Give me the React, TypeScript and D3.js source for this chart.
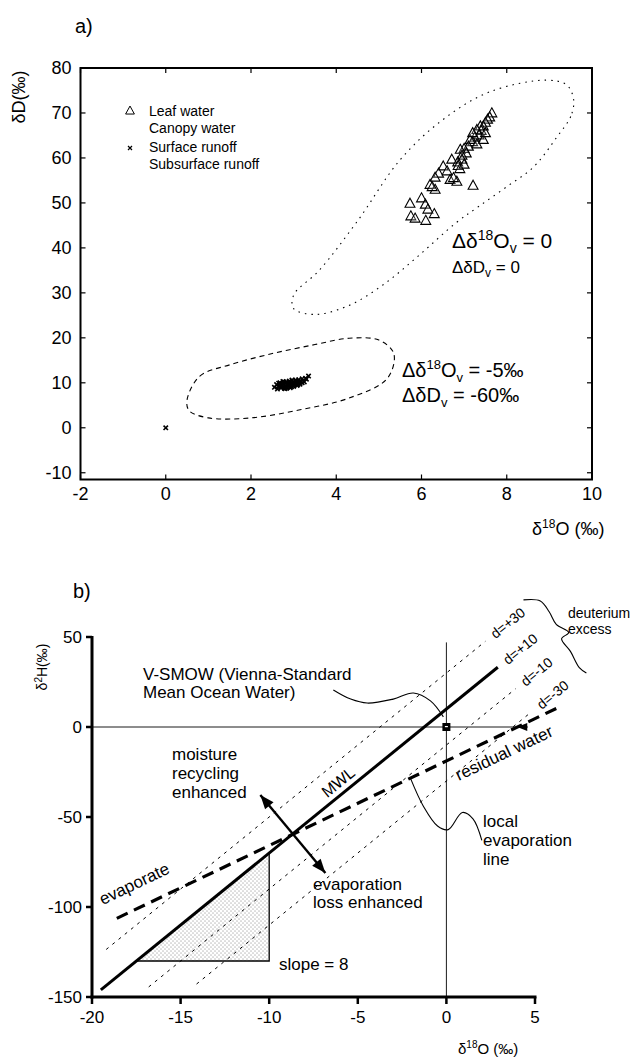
import React from "react";
import * as d3 from "d3";

const FONT = "'Liberation Sans', Arial, Helvetica, sans-serif";

// ---------- Panel a data ----------
const aXTicks = [-2, 0, 2, 4, 6, 8, 10];
const aYTicks = [-10, 0, 10, 20, 30, 40, 50, 60, 70, 80];

const leafWater: [number, number][] = [
  [7.65, 69.9], [7.6, 69.0], [7.55, 68.5], [7.5, 67.8], [7.45, 67.0], [7.38, 67.0],
  [7.4, 66.0], [7.3, 66.2], [7.35, 65.0], [7.25, 64.5], [7.45, 64.0], [7.2, 63.5],
  [7.14, 64.0], [7.3, 63.0], [7.1, 62.5], [7.0, 62.0], [6.91, 61.8], [7.05, 61.0],
  [6.95, 60.5], [6.95, 59.6], [6.85, 59.0], [6.71, 59.6], [6.86, 58.2], [6.51, 58.1],
  [6.9, 57.5], [6.6, 57.0], [6.4, 56.5], [6.32, 55.6], [6.67, 55.1], [6.83, 54.7],
  [6.75, 55.5], [7.21, 53.8], [6.2, 54.0], [6.32, 52.9], [6.25, 53.5], [6.0, 51.0],
  [5.73, 49.8], [6.09, 49.6], [6.15, 48.5], [5.75, 47.0], [5.85, 46.5], [6.1, 46.0],
  [6.3, 47.5], [7.0, 58.5], [7.5, 65.5], [7.2, 65.5],
];

const runoff: [number, number][] = [
  [2.55, 9.0], [2.6, 9.6], [2.62, 8.6], [2.65, 9.3], [2.68, 10.0], [2.7, 8.9], [2.72, 9.5],
  [2.75, 10.3], [2.78, 8.8], [2.8, 9.4], [2.82, 10.1], [2.85, 9.0], [2.88, 9.8], [2.9, 10.4],
  [2.92, 8.9], [2.95, 9.6], [2.98, 10.2], [3.0, 9.2], [3.02, 9.9], [3.05, 10.6], [3.08, 9.4],
  [3.1, 10.0], [3.12, 10.7], [3.15, 9.7], [3.18, 10.3], [3.2, 10.9], [3.25, 10.2], [3.3, 10.8],
  [2.7, 9.2], [2.75, 9.8], [2.8, 8.7], [2.85, 9.5], [2.9, 10.0], [2.95, 9.1], [3.0, 9.7],
  [3.05, 10.3], [3.1, 9.6], [2.65, 9.9], [2.72, 9.0], [2.78, 10.2], [2.84, 8.8], [2.9, 9.3],
  [2.96, 10.6], [3.02, 9.5], [3.08, 9.9], [3.14, 10.1], [3.2, 10.0], [3.35, 11.5], [3.28, 11.0],
  [0.0, 0.0],
];

const zeroLoop: [number, number][] = [
  [9.57, 72.9], [9.5, 69.2], [9.18, 64.7], [8.63, 58.0], [8.0, 53.6], [7.34, 49.2],
  [6.8, 45.5], [5.9, 38.0], [5.1, 31.8], [4.3, 27.2], [3.5, 25.2], [3.0, 26.5],
  [3.0, 29.5], [3.6, 35.0], [4.5, 46.0], [5.5, 59.6], [6.5, 68.5], [7.6, 74.7],
  [8.94, 77.3], [9.41, 76.2],
];

const shiftLoop: [number, number][] = [
  [0.5, 6.2], [0.8, 11.5], [1.5, 14.0], [2.5, 16.5], [3.5, 18.5], [4.3, 19.9],
  [5.0, 19.5], [5.35, 16.5], [5.2, 11.0], [4.3, 6.6], [3.15, 4.0], [2.0, 2.2],
  [1.0, 2.2], [0.55, 3.8],
];

// ---------- Panel b data ----------
const bXTicks = [-20, -15, -10, -5, 0, 5];
const bYTicks = [-150, -100, -50, 0, 50];

const excessLines = [
  { d: 30, from: -19.2, to: 2.2, label: "d=+30", solid: false },
  { d: 10, from: -19.5, to: 2.9, label: "d=+10", solid: true },
  { d: -10, from: -16.8, to: 3.9, label: "d=-10", solid: false },
  { d: -30, from: -14.1, to: 4.8, label: "d=-30", solid: false },
];
const mwlSlope = 8;
const evapLine: [number, number][] = [[-18.6, -106.3], [6.2, 10.3]];
const slopeTriangle: [number, number][] = [[-17.5, -130], [-10, -130], [-10, -70]];
const arrowEnds: [number, number][] = [[-10.5, -37.8], [-6.83, -81.1]];
const smowLeader: [number, number][] = [[-6.38, 20.6], [-5.4, 15.5], [-4.47, 13.3], [-3.0, 15.5], [-1.86, 18.9], [-0.9, 14.5], [-0.17, 5.6]];
const evapLeader: [number, number][] = [[-2.03, -28.4], [-1.3, -44], [-0.5, -55], [0.1, -57], [0.9, -47.5], [1.5, -51], [2.0, -63]];
const brace: [number, number][] = [[4.35, 70.6], [5.3, 70], [5.8, 64], [6.2, 57], [6.9, 52.5], [6.5, 49], [7.0, 42], [7.5, 33], [7.9, 30]];

export default function App() {
  const xa = d3.scaleLinear().domain([-2, 10]).range([80.5, 592]);
  const ya = d3.scaleLinear().domain([-11.5, 80]).range([479.5, 68]);
  const xb = d3.scaleLinear().domain([-20, 5]).range([92, 535]);
  const yb = d3.scaleLinear().domain([-150, 50]).range([997, 637]);

  const loopLine = d3.line<[number, number]>().x(d => xa(d[0])).y(d => ya(d[1])).curve(d3.curveCatmullRomClosed);
  const bLine = d3.line<[number, number]>().x(d => xb(d[0])).y(d => yb(d[1]));
  const bCurve = d3.line<[number, number]>().x(d => xb(d[0])).y(d => yb(d[1])).curve(d3.curveCatmullRom);

  const kx = (xb(1) - xb(0));
  const ky = (yb(0) - yb(1));
  const mwlAngle = -Math.atan((mwlSlope * ky) / kx) * 180 / Math.PI;
  const evSlope = (evapLine[1][1] - evapLine[0][1]) / (evapLine[1][0] - evapLine[0][0]);
  const evAngle = -Math.atan((evSlope * ky) / kx) * 180 / Math.PI;

  const tri = (cx: number, cy: number, s: number) =>
    `M${cx},${cy - s * 0.62}L${cx + s * 0.55},${cy + s * 0.38}L${cx - s * 0.55},${cy + s * 0.38}Z`;
  const cross = (cx: number, cy: number, s: number) =>
    `M${cx - s},${cy - s}L${cx + s},${cy + s}M${cx - s},${cy + s}L${cx + s},${cy - s}`;

  const x0 = xa.range()[0], x1 = xa.range()[1];
  const yTop = ya.range()[1], yBot = ya.range()[0];

  const ax0 = xb(arrowEnds[0][0]), ay0 = yb(arrowEnds[0][1]);
  const ax1 = xb(arrowEnds[1][0]), ay1 = yb(arrowEnds[1][1]);
  const ang = Math.atan2(ay1 - ay0, ax1 - ax0);
  const head = (x: number, y: number, a: number, L = 14, Wd = 5.5) => {
    const bx = x - L * Math.cos(a), by = y - L * Math.sin(a);
    return `M${x},${y}L${bx + Wd * Math.sin(a)},${by - Wd * Math.cos(a)}L${bx - Wd * Math.sin(a)},${by + Wd * Math.cos(a)}Z`;
  };

  return (
    <svg width={635} height={1059} style={{ display: "block", position: "absolute", left: 0, top: 0 }} fontFamily={FONT}>
      <defs>
        <pattern id="stip" width="4" height="4" patternUnits="userSpaceOnUse">
          <circle cx="1" cy="1" r="0.45" fill="#000" />
          <circle cx="3" cy="3" r="0.45" fill="#000" />
        </pattern>
      </defs>
      <rect width={635} height={1059} fill="#fff" />

      {/* ================= Panel a ================= */}
      <text x={75} y={33} fontSize={20}>a)</text>
      <rect x={x0} y={yTop} width={x1 - x0} height={yBot - yTop} fill="none" stroke="#000" strokeWidth={2} />
      {aYTicks.map(t => (
        <g key={"ay" + t}>
          <line x1={x0} x2={x0 + 5} y1={ya(t)} y2={ya(t)} stroke="#000" strokeWidth={1.2} />
          <line x1={x1} x2={x1 - 5} y1={ya(t)} y2={ya(t)} stroke="#000" strokeWidth={1.2} />
          <text x={x0 - 9} y={ya(t)} dy="0.35em" textAnchor="end" fontSize={18}>{t}</text>
        </g>
      ))}
      {aXTicks.map(t => (
        <g key={"ax" + t}>
          <line x1={xa(t)} x2={xa(t)} y1={yBot} y2={yBot - 5} stroke="#000" strokeWidth={1.2} />
          <line x1={xa(t)} x2={xa(t)} y1={yTop} y2={yTop + 5} stroke="#000" strokeWidth={1.2} />
          <text x={xa(t)} y={yBot + 20} textAnchor="middle" fontSize={18}>{t}</text>
        </g>
      ))}
      <text transform={`translate(25,97) rotate(-90)`} textAnchor="middle" fontSize={18}>δD(‰)</text>
      <text x={532} y={535} fontSize={18}>δ<tspan dy={-7} fontSize={12}>18</tspan><tspan dy={7}>O (‰)</tspan></text>

      {/* legend */}
      <path d={tri(130, 111, 8)} fill="none" stroke="#000" strokeWidth={1} />
      <text x={149} y={116} fontSize={14}>Leaf water</text>
      <text x={149} y={133} fontSize={14}>Canopy water</text>
      <path d={cross(130, 148, 2)} stroke="#000" strokeWidth={1.2} />
      <text x={149} y={152} fontSize={14}>Surface runoff</text>
      <text x={149} y={169} fontSize={14}>Subsurface runoff</text>

      {/* loops */}
      <path d={loopLine(zeroLoop) || ""} fill="none" stroke="#000" strokeWidth={1.1} strokeDasharray="1.5,5" />
      <path d={loopLine(shiftLoop) || ""} fill="none" stroke="#000" strokeWidth={1.1} strokeDasharray="5,4" />

      {/* data */}
      {leafWater.map((p, i) => (
        <path key={"lw" + i} d={tri(xa(p[0]), ya(p[1]), 9)} fill="#fff" fillOpacity={0.2} stroke="#000" strokeWidth={1.1} />
      ))}
      {runoff.map((p, i) => (
        <path key={"ro" + i} d={cross(xa(p[0]), ya(p[1]), 2.2)} stroke="#000" strokeWidth={1.6} />
      ))}

      {/* annotations a */}
      <text x={452} y={248} fontSize={21}>Δδ<tspan dy={-8} fontSize={14}>18</tspan><tspan dy={8}>O</tspan><tspan dy={5} fontSize={14}>v</tspan><tspan dy={-5}> = 0</tspan></text>
      <text x={452} y={273} fontSize={17}>ΔδD<tspan dy={4} fontSize={12}>v</tspan><tspan dy={-4}> = 0</tspan></text>
      <text x={402} y={377} fontSize={20}>Δδ<tspan dy={-8} fontSize={13}>18</tspan><tspan dy={8}>O</tspan><tspan dy={5} fontSize={13}>v</tspan><tspan dy={-5}> = -5‰</tspan></text>
      <text x={402} y={402} fontSize={20}>ΔδD<tspan dy={5} fontSize={13}>v</tspan><tspan dy={-5}> = -60‰</tspan></text>

      {/* ================= Panel b ================= */}
      <text x={73} y={598} fontSize={20}>b)</text>

      <line x1={xb(-20)} x2={xb(4.6)} y1={yb(0)} y2={yb(0)} stroke="#000" strokeWidth={0.9} />
      <line x1={xb(0)} x2={xb(0)} y1={yb(47)} y2={yb(-150)} stroke="#000" strokeWidth={0.9} />

      <path d={bLine(slopeTriangle) + "Z"} fill="url(#stip)" stroke="#000" strokeWidth={1.3} />

      {excessLines.map(l => (
        <g key={"d" + l.d}>
          <line x1={xb(l.from)} y1={yb(mwlSlope * l.from + l.d)} x2={xb(l.to)} y2={yb(mwlSlope * l.to + l.d)}
            stroke="#000" strokeWidth={l.solid ? 3 : 1} strokeDasharray={l.solid ? undefined : "3,5"} />
          <text transform={`translate(${xb(l.to + 0.4)},${yb(mwlSlope * (l.to + 0.4) + l.d)}) rotate(${mwlAngle})`}
            dy="0.35em" fontSize={14}>{l.label}</text>
        </g>
      ))}

      <path d={bLine(evapLine) || ""} fill="none" stroke="#000" strokeWidth={3.2} strokeDasharray="12,7" />
      <path d={head(xb(4.0), yb(0), Math.PI, 10, 4)} fill="#000" />

      <line x1={ax0} y1={ay0} x2={ax1} y2={ay1} stroke="#000" strokeWidth={2.4} />
      <path d={head(ax0, ay0, ang + Math.PI)} fill="#000" />
      <path d={head(ax1, ay1, ang)} fill="#000" />

      <rect x={xb(0) - 4} y={yb(0) - 4} width={8} height={8} fill="#000" />
      <rect x={xb(0) - 1.5} y={yb(0) - 1} width={3} height={1.2} fill="#fff" />

      <path d={bCurve(smowLeader) || ""} fill="none" stroke="#000" strokeWidth={1.1} />
      <path d={bCurve(evapLeader) || ""} fill="none" stroke="#000" strokeWidth={1.1} />
      <path d={bCurve(brace) || ""} fill="none" stroke="#000" strokeWidth={1.1} />

      <line x1={xb(-20)} x2={xb(-20)} y1={yb(50) - 1} y2={yb(-150) + 1.5} stroke="#000" strokeWidth={3} />
      <line x1={xb(-20) - 1.5} x2={xb(5) + 1.5} y1={yb(-150)} y2={yb(-150)} stroke="#000" strokeWidth={3} />
      {bYTicks.map(t => (
        <g key={"by" + t}>
          <line x1={xb(-20) - 6} x2={xb(-20)} y1={yb(t)} y2={yb(t)} stroke="#000" strokeWidth={2.5} />
          <text x={xb(-20) - 10} y={yb(t)} dy="0.35em" textAnchor="end" fontSize={17}>{t}</text>
        </g>
      ))}
      {bXTicks.map(t => (
        <g key={"bx" + t}>
          <line x1={xb(t)} x2={xb(t)} y1={yb(-150)} y2={yb(-150) + 7} stroke="#000" strokeWidth={2.5} />
          <text x={xb(t)} y={yb(-150) + 26} textAnchor="middle" fontSize={17}>{t}</text>
        </g>
      ))}
      <text transform={`translate(47,667) rotate(-90)`} textAnchor="middle" fontSize={14}>δ<tspan dy={-5} fontSize={10}>2</tspan><tspan dy={5}>H(‰)</tspan></text>
      <text x={458} y={1054} fontSize={15}>δ<tspan dy={-6} fontSize={10}>18</tspan><tspan dy={6}>O (‰)</tspan></text>

      <text x={143} y={680} fontSize={17}>V-SMOW (Vienna-Standard</text>
      <text x={143} y={698} fontSize={17}>Mean Ocean Water)</text>
      <text x={172} y={760} fontSize={17}>moisture</text>
      <text x={172} y={779} fontSize={17}>recycling</text>
      <text x={172} y={798} fontSize={17}>enhanced</text>
      <text x={313} y={890} fontSize={17}>evaporation</text>
      <text x={313} y={908} fontSize={17}>loss enhanced</text>
      <text x={279} y={970} fontSize={17}>slope = 8</text>
      <text x={483} y={827} fontSize={17}>local</text>
      <text x={483} y={846} fontSize={17}>evaporation</text>
      <text x={483} y={865} fontSize={17}>line</text>
      <text x={568} y={618} fontSize={14}>deuterium</text>
      <text x={568} y={634} fontSize={14}>excess</text>
      <text transform={`translate(${xb(-5.7)},${yb(mwlSlope * -5.7 + 10)}) rotate(${mwlAngle})`} dy={-6} textAnchor="middle" fontSize={16}>MWL</text>
      <text transform={`translate(${xb(-19.4)},${yb(-99)}) rotate(${evAngle})`} fontSize={17}>evaporate</text>
      <text transform={`translate(${xb(0.7)},${yb(-30)}) rotate(${evAngle})`} fontSize={17}>residual water</text>
    </svg>
  );
}
